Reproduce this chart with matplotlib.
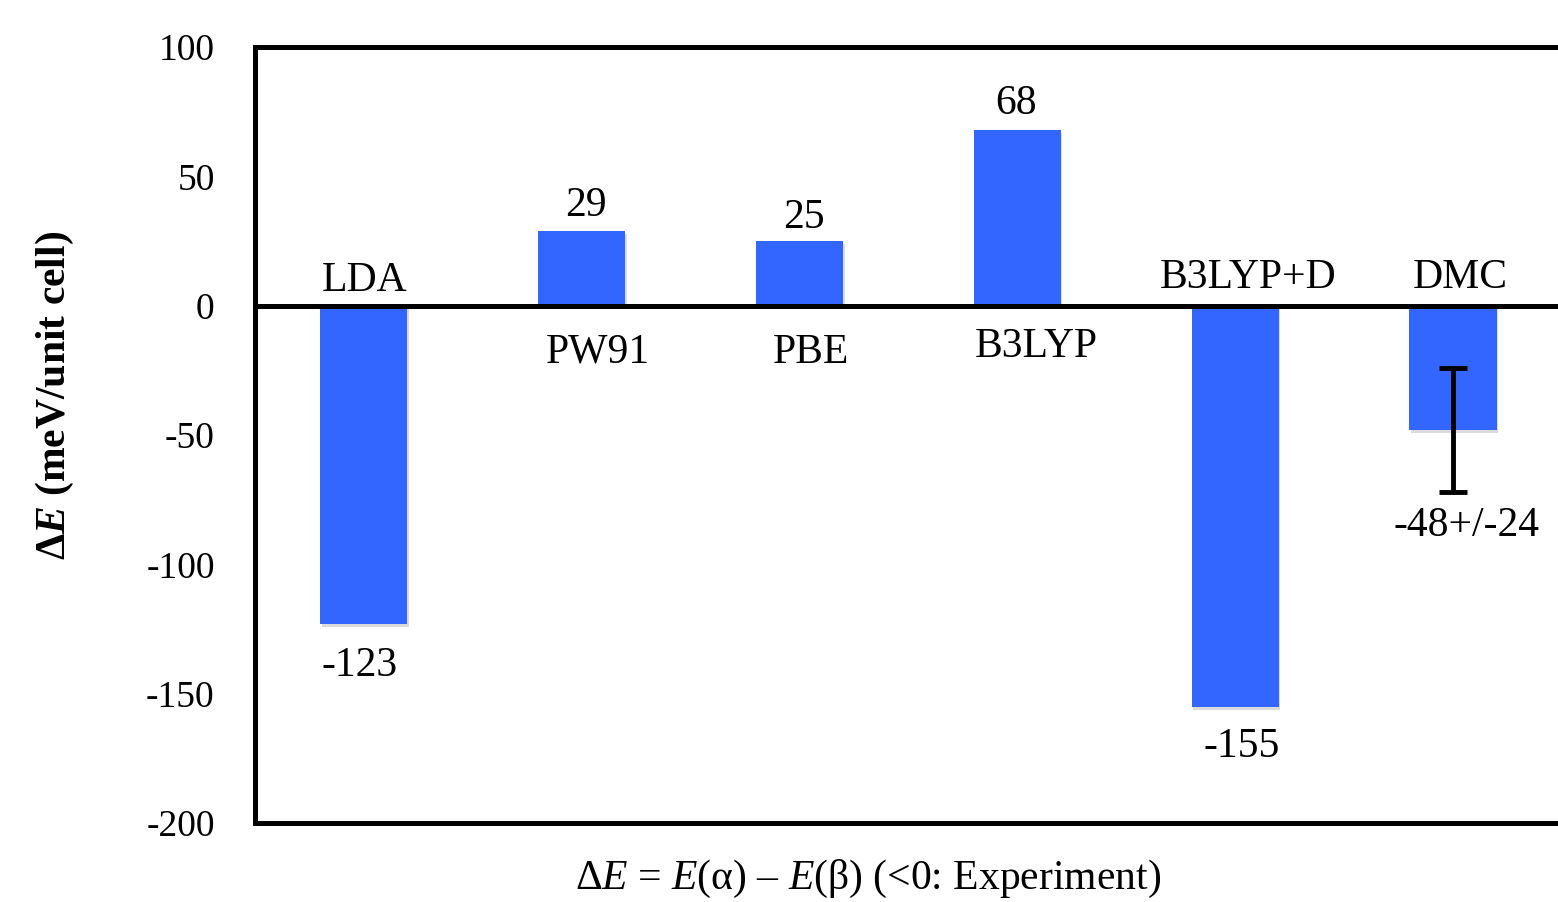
import numpy as np
import matplotlib
matplotlib.use('Agg')
import matplotlib.pyplot as plt
import matplotlib.patheffects as pe

plt.rcParams['font.family'] = ['Liberation Serif', 'DejaVu Serif']
plt.rcParams['mathtext.fontset'] = 'custom'
plt.rcParams['mathtext.rm'] = 'Liberation Serif'
plt.rcParams['mathtext.it'] = 'Liberation Serif:italic'
plt.rcParams['mathtext.bf'] = 'Liberation Serif:bold'
plt.rcParams['mathtext.bfit'] = 'Liberation Serif:italic:bold'

# data
methods = ['LDA', 'PW91', 'PBE', 'B3LYP', 'B3LYP+D', 'DMC']
dE = [-123, 29, 25, 68, -155, -48]
dE_err = [0, 0, 0, 0, 0, 24]
value_labels = ['-123', '29', '25', '68', '-155', '-48+/-24']
yticks = [-200, -150, -100, -50, 0, 50, 100]

# label offsets in pixels (name label relative to zero line, value label relative to bar end)
name_off = [(1, 25), (16, -47), (11, -47), (19, -41), (13, 28), (7, 28)]
val_off = [(-4, -42), (4, 25), (4, 23), (-1, 26), (6, -40), (13, -34)]

fig = plt.figure(figsize=(15.58, 9.02), dpi=100)
ax = fig.add_axes([255/1558, 1 - 823/902, 1 - 255/1558, (823 - 47)/902])

x = np.arange(len(methods))
shadow = [pe.SimplePatchShadow(offset=(1, -2.5), shadow_rgbFace='#888888', alpha=0.3), pe.Normal()]
bars = ax.bar(x, dE, width=0.4, color='#3366ff', zorder=2)
for b in bars:
    b.set_path_effects(shadow)

ax.errorbar(x[5], dE[5], yerr=dE_err[5], fmt='none', ecolor='black',
            elinewidth=3.5, capsize=10, capthick=3.5, zorder=3)

ax.axhline(0, color='black', lw=3.6, zorder=4)

ax.set_xlim(-0.5, 5.482)
ax.set_ylim(-200, 100)
ax.set_yticks(yticks)
ax.set_yticklabels([str(t) for t in yticks], fontsize=27)
ax.set_xticks([])
ax.tick_params(axis='y', length=0, pad=29)

for s in ['left', 'top', 'bottom']:
    ax.spines[s].set_linewidth(3.6)
ax.spines['right'].set_visible(False)

for i in range(len(methods)):
    ax.annotate(methods[i], xy=(x[i], 0), xytext=name_off[i], textcoords='offset pixels',
                ha='center', va='center', fontsize=30, zorder=5)
    yend = dE[i] - dE_err[i] if dE[i] < 0 else dE[i]
    ax.annotate(value_labels[i], xy=(x[i], yend), xytext=val_off[i], textcoords='offset pixels',
                ha='center', va='center', fontsize=30, zorder=5)

fig.text(55/1558, 1 - 395/902, r'$\mathbf{\Delta}\mathbfit{E}$ (meV/unit cell)', rotation=90,
         ha='center', va='center', fontsize=30, fontweight='bold')
fig.text(868/1558, 1 - 879/902, r'Δ$E$ = $E$(α) – $E$(β) (<0: Experiment)',
         ha='center', va='center', fontsize=30)

fig.savefig('out.png', dpi=100)
